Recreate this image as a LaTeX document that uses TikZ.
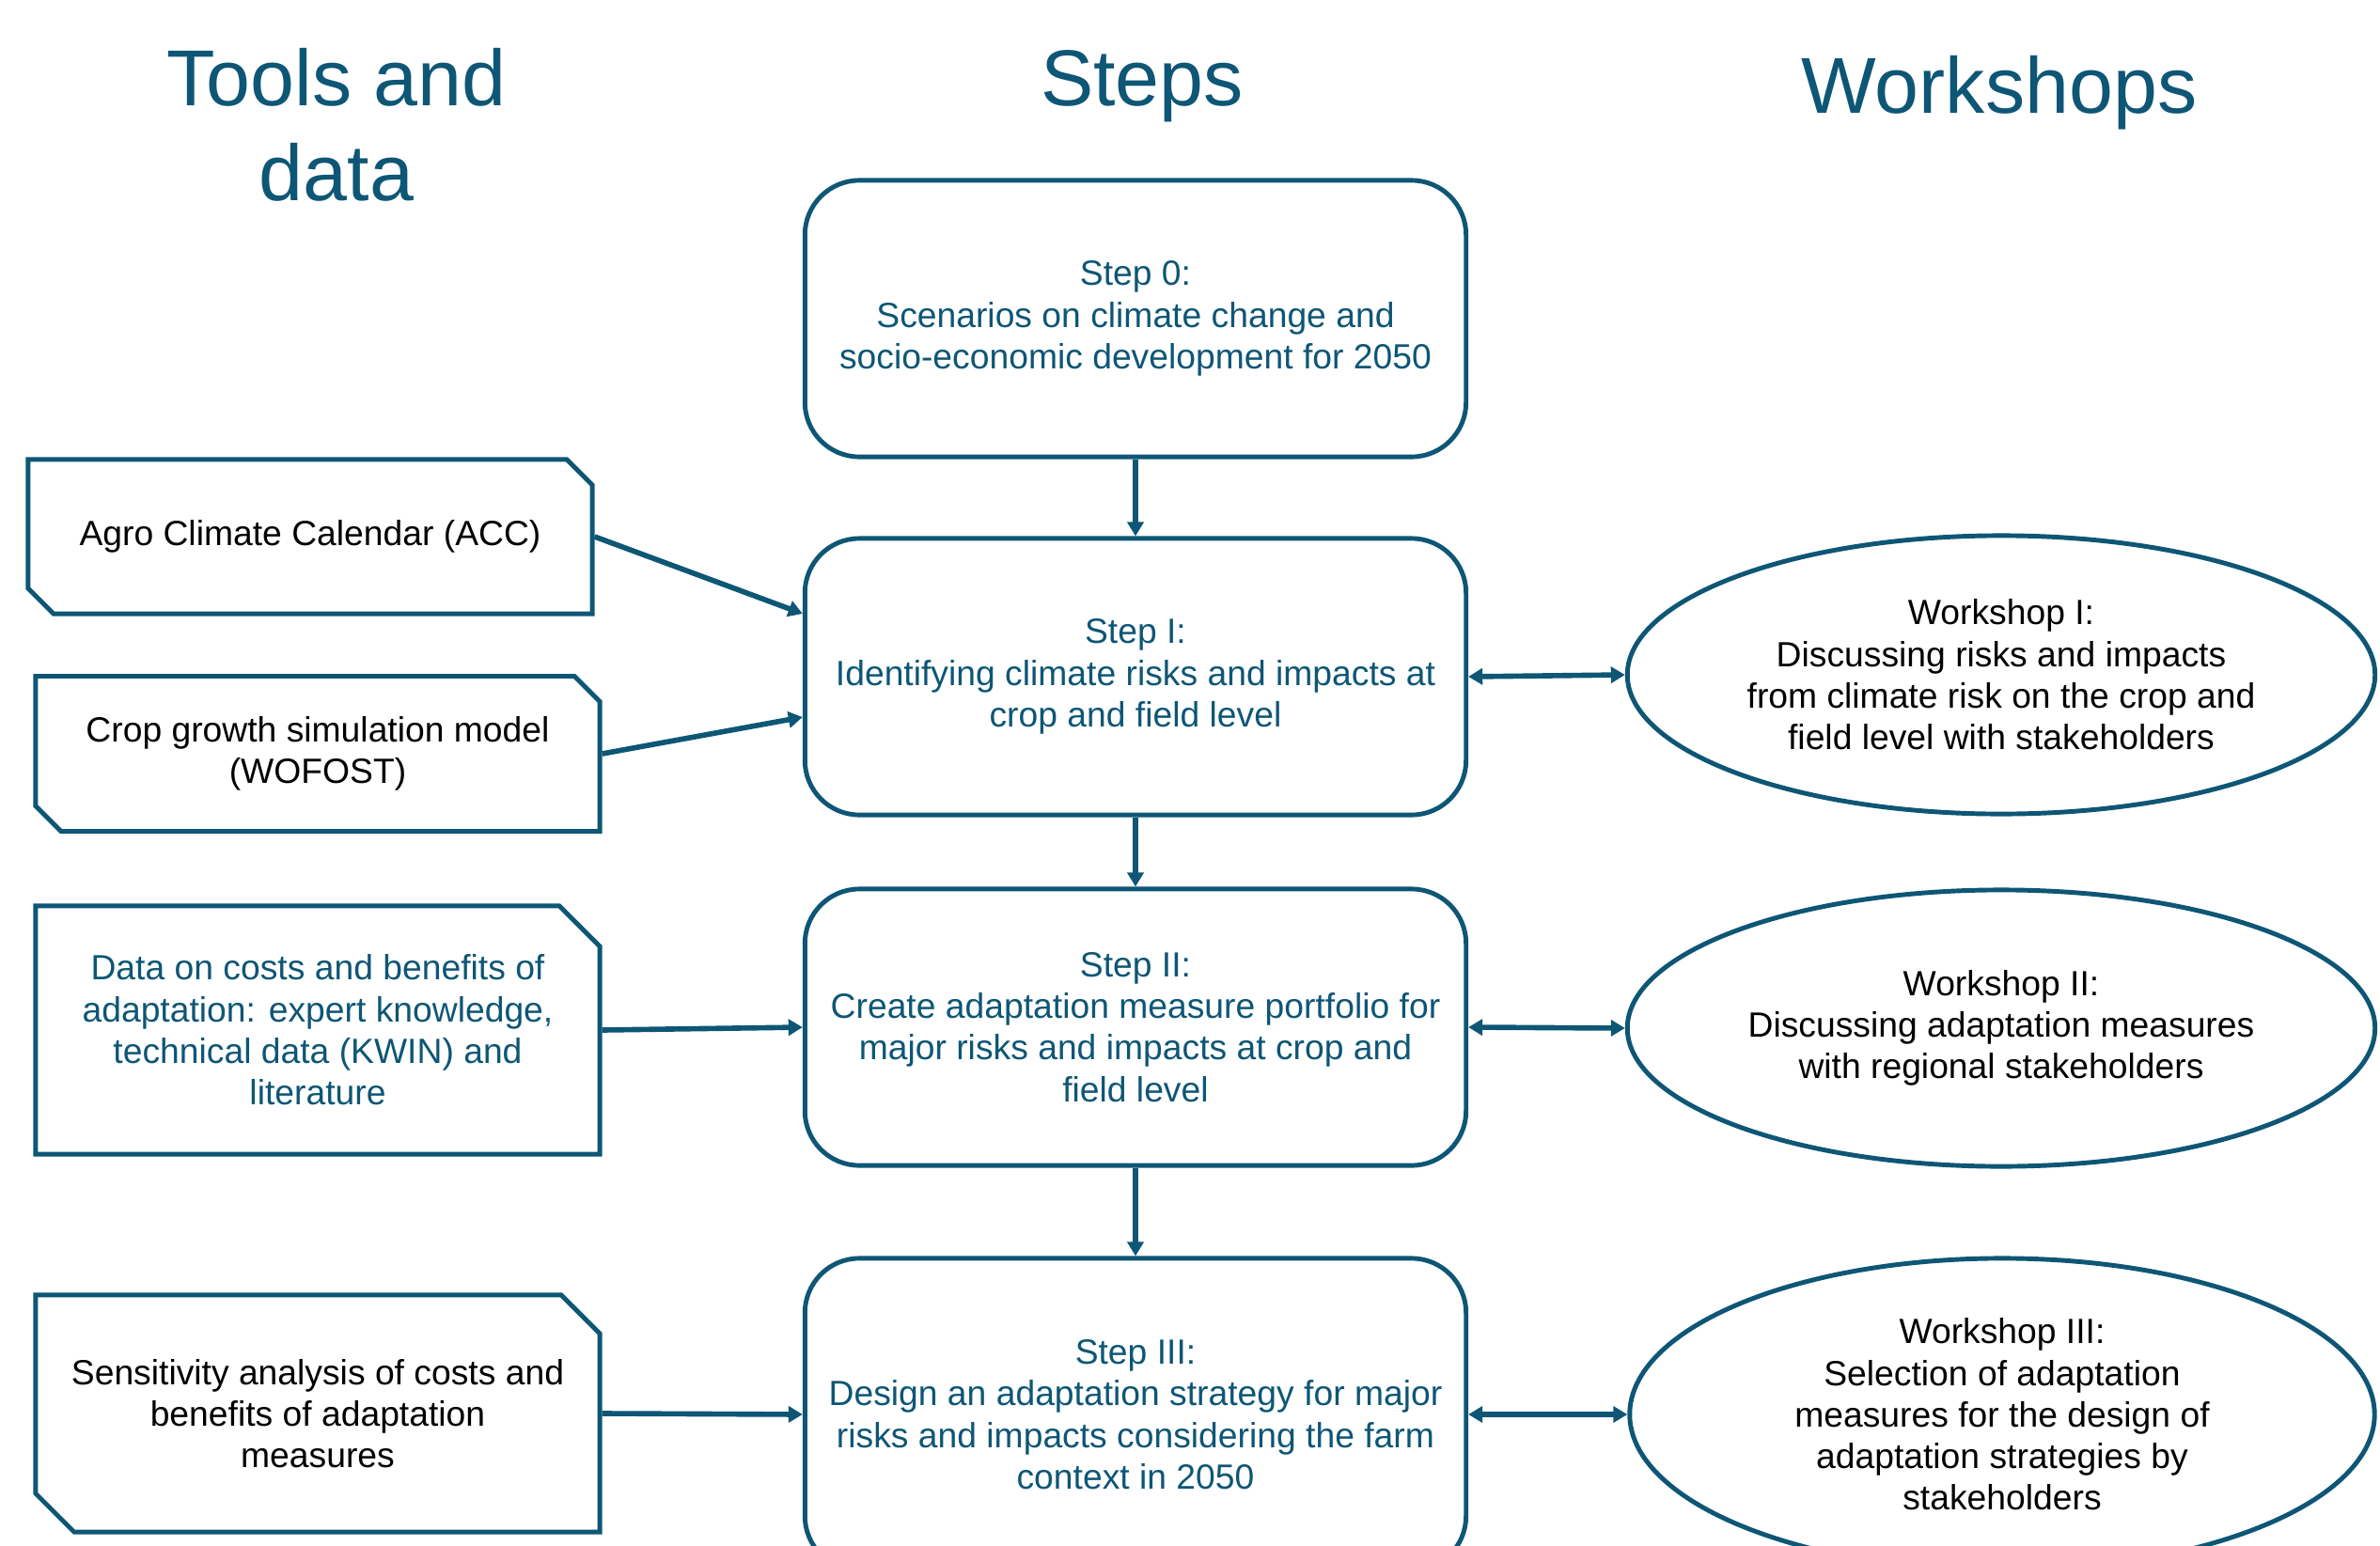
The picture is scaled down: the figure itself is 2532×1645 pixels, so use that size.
\documentclass[tikz,border=0pt]{standalone}
\usepackage{fontspec}
\setmainfont{Liberation Sans}
\usetikzlibrary{arrows.meta,shapes.geometric,shapes.misc}
\definecolor{stepcolor}{HTML}{0E5675}
\tikzset{headline/.style={text=stepcolor,align=center,font=\fontsize{24}{28.7}\selectfont}}
\tikzset{stepbox/.style={draw=stepcolor,line width=1.4pt,rounded corners=0.58cm,minimum width=7.03cm,minimum height=2.94cm,align=center,text=stepcolor,font=\fontsize{10.6}{12.6}\selectfont}}
\tikzset{toolbox/.style={draw=stepcolor,line width=1.4pt,shape=chamfered rectangle,chamfered rectangle corners={north east,south west},chamfered rectangle xsep=0.135cm,chamfered rectangle ysep=0.135cm,inner sep=0pt,minimum width=6cm,minimum height=1.64cm,align=center,font=\fontsize{10.6}{12.6}\selectfont}}
\tikzset{wsnode/.style={draw=stepcolor,line width=1.4pt,ellipse,inner sep=0pt,minimum width=7.95cm,minimum height=2.96cm,align=center,font=\fontsize{10.6}{12.6}\selectfont}}
\tikzset{flow/.style={draw=stepcolor,line width=1.6pt,-{Triangle[length=0.15cm,width=0.17cm]}}}
\tikzset{twoway/.style={flow,{Triangle[length=0.15cm,width=0.17cm]}-{Triangle[length=0.15cm,width=0.17cm]}}}

\begin{document}
\begin{tikzpicture}[x=0.01cm,y=-0.01cm]
	\useasboundingbox (0,0) rectangle (2532,1645);
	%
	\node[headline] (tooltitle) at (358,133) {Tools and\\data};
	\node[headline,anchor=base] (steptitle) at (1215,112) {Steps};
	\node[headline,anchor=base] (wstitle) at (2127,120) {Workshops};
	%
	\node[stepbox] (step0) at (1208,339) {Step 0:\\Scenarios on climate change and\\socio-economic development for 2050};
	\node[stepbox] (step1) at (1208,720) {Step I:\\Identifying climate risks and impacts at\\crop and field level};
	\node[stepbox] (step2) at (1208,1093) {Step II:\\Create adaptation measure portfolio for\\major risks and impacts at crop and\\field level};
	\node[stepbox,minimum height=3.32cm] (step3) at (1208,1505) {Step III:\\Design an adaptation strategy for major\\risks and impacts considering the farm\\context in 2050};
	%
	\node[toolbox] (acc) at (330,571) {Agro Climate Calendar (ACC)};
	\node[toolbox,minimum height=1.65cm] (wofost) at (338,802) {Crop growth simulation model\\(WOFOST)};
	\node[toolbox,chamfered rectangle corners=north east,chamfered rectangle xsep=0.215cm,chamfered rectangle ysep=0.215cm,minimum height=2.64cm,text=stepcolor] (costdata) at (338,1096) {Data on costs and benefits of\\adaptation: expert knowledge,\\technical data (KWIN) and\\literature};
	\node[toolbox,chamfered rectangle xsep=0.205cm,chamfered rectangle ysep=0.205cm,minimum height=2.52cm] (sens) at (338,1504) {Sensitivity analysis of costs and\\benefits of adaptation\\measures};
	%
	\node[wsnode] (ws1) at (2129,718) {Workshop I:\\Discussing risks and impacts\\from climate risk on the crop and\\field level with stakeholders};
	\node[wsnode,minimum height=2.94cm] (ws2) at (2129,1094) {Workshop II:\\Discussing adaptation measures\\with regional stakeholders};
	\node[wsnode,minimum width=7.92cm,minimum height=3.32cm] (ws3) at (2130,1505) {Workshop III:\\Selection of adaptation\\measures for the design of\\adaptation strategies by\\stakeholders};
	%
	\draw[flow] (step0) -- (step1);
	\draw[flow] (step1) -- (step2);
	\draw[flow] (step2) -- (step3);
	%
	\draw[flow] (acc.east) -- ([yshift=0.67cm]step1.west);
	\draw[flow] (wofost.east) -- ([yshift=-0.43cm]step1.west);
	\draw[flow] (costdata.east) -- (step2.west);
	\draw[flow] (sens.east) -- (step3.west);
	%
	\draw[twoway] (step1.east) -- (ws1.west);
	\draw[twoway] (step2.east) -- (ws2.west);
	\draw[twoway] (step3.east) -- (ws3.west);
\end{tikzpicture}
\end{document}
